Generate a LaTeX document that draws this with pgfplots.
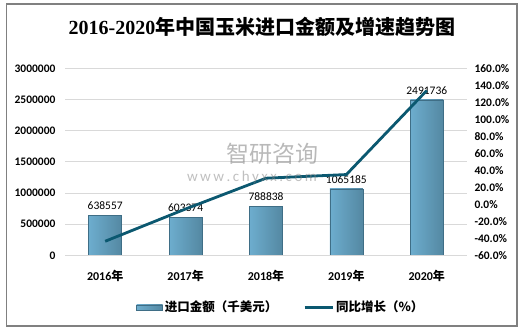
\documentclass[border=0pt]{standalone}
\usepackage{pgfplots}
\pgfplotsset{compat=1.18}
\usepackage{fontspec}
\setmainfont{Carlito}
\newfontfamily\cjk{Noto Sans CJK SC}
\newfontfamily\titleserif{Liberation Serif}
\definecolor{barL}{HTML}{6DADCE}
\definecolor{barR}{HTML}{5488A2}
\definecolor{barEdge}{HTML}{3F6E86}
\definecolor{lineC}{HTML}{0B5870}
\definecolor{gridC}{HTML}{D9D9D9}
\begin{document}
\begin{tikzpicture}[x=1pt,y=1pt]
\path (0,0) rectangle (523,331);
\draw[color=gray, line width=1.2pt] (6.5,5) rectangle (517,327);
\node[font=\fontsize{20}{24}\selectfont\bfseries] at (262,304) {{\titleserif 2016-2020}{\cjk 年中国玉米进口金额及增速趋势图}};
\begin{axis}[
  at={(65pt,75.7pt)}, anchor=south west, scale only axis,
  width=402pt, height=187pt,
  xmin=-0.5, xmax=4.5, ymin=0, ymax=3000000,
  ytick={0,500000,1000000,1500000,2000000,2500000,3000000},
  scaled y ticks=false,
  xtick={0,1,2,3,4},
  xticklabels={2016{\cjk 年},2017{\cjk 年},2018{\cjk 年},2019{\cjk 年},2020{\cjk 年}},
  ymajorgrids, grid style={gridC, line width=0.8pt},
  axis line style={draw=none}, tick style={draw=none},
  /pgf/number format/assume math mode=true,
  yticklabel style={/pgf/number format/fixed, /pgf/number format/set thousands separator={}, font=\fontsize{11.5}{12}\selectfont\bfseries, xshift=-6pt},
  xticklabel style={font=\fontsize{12}{14}\selectfont\bfseries, yshift=-7pt},
  ybar, bar width=33pt, bar shift=0pt,
  nodes near coords,
  nodes near coords style={font=\fontsize{11.5}{12}\selectfont, /pgf/number format/fixed, /pgf/number format/set thousands separator={}, yshift=2pt},
  barsty/.style={draw=barEdge, left color=barL, right color=barR, line width=0.6pt},
]
\addplot[barsty] coordinates {(0,638557)};
\addplot[barsty] coordinates {(1,603374)};
\addplot[barsty] coordinates {(2,788838)};
\addplot[barsty] coordinates {(3,1065185)};
\addplot[barsty] coordinates {(4,2491736)};
\draw[gridC, line width=0.8pt] (axis cs:-0.5,0) -- (axis cs:4.5,0);
\end{axis}
\begin{axis}[
  at={(65pt,75.7pt)}, anchor=south west, scale only axis,
  width=402pt, height=187pt,
  xmin=-0.5, xmax=4.5, ymin=-60, ymax=160,
  ytick={-60,-40,-20,0,20,40,60,80,100,120,140,160},
  axis y line*=right, axis x line=none,
  axis line style={draw=none}, tick style={draw=none},
  /pgf/number format/assume math mode=true,
  yticklabel={\pgfmathprintnumber[fixed,fixed zerofill,precision=1]{\tick}\%},
  yticklabel style={font=\fontsize{11.5}{12}\selectfont\bfseries, xshift=4pt},
  legend columns=2,
  legend style={at={(0.537,-0.278)}, anchor=center, draw=none, fill=none,
    font=\fontsize{12.5}{14}\selectfont\bfseries\cjk,
    /tikz/every even column/.append style={column sep=24pt}},
]
\addlegendimage{legend image code/.code={\fill[draw=barEdge, left color=barL, right color=barR] (0pt,-2.5pt) rectangle (26pt,2.5pt);}}
\addlegendentry{进口金额（千美元）}
\addplot[color=lineC, line width=2.8pt, mark=none, legend image code/.code={\draw[lineC, line width=2.8pt] (0pt,0pt) -- (28pt,0pt);}] coordinates {(0,-43.5) (1,-5.5) (2,30.7) (3,35.0) (4,133.9)};
\addlegendentry{同比增长（\%）}
\end{axis}
\node[text=gray, opacity=0.55, font=\cjk\fontsize{23}{24}\selectfont] at (272,177) {智研咨询};
\node[text=gray, opacity=0.5, font=\fontsize{15}{16}\selectfont] at (252,153) {w\,w\,w\,.\,c\,h\,y\,x\,x\,.\,c\,o\,m};
\end{tikzpicture}
\end{document}
